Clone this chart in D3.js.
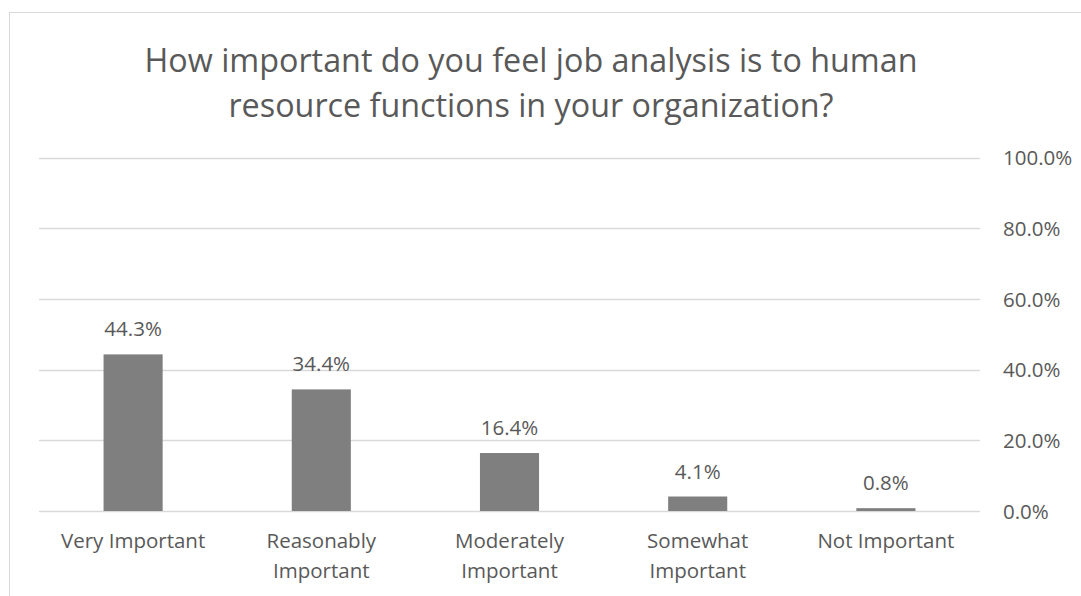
<!DOCTYPE html>
<html>
<head>
<meta charset="utf-8">
<script src="https://cdn.jsdelivr.net/npm/d3@7"></script>
<style>
  html, body { margin: 0; padding: 0; background: #fff; }
  svg { display: block; }
  text { font-family: "Open Sans", "Noto Sans", sans-serif; fill: #595959; }
</style>
</head>
<body>
<svg id="chart" width="1081" height="596"></svg>
<script>
// Survey responses: share of respondents per importance level
const categories = [
  ["Very Important"],
  ["Reasonably", "Important"],
  ["Moderately", "Important"],
  ["Somewhat", "Important"],
  ["Not Important"]
];
const values = [44.3, 34.4, 16.4, 4.1, 0.8];
const tickValues = [0, 20, 40, 60, 80, 100];
const titleLines = [
  "How important do you feel job analysis is to human",
  "resource functions in your organization?"
];

const svg = d3.select("#chart");
const W = 1081, H = 596;
const labelSize = 20.5;

// Chart frame
svg.append("rect")
  .attr("x", 9.5).attr("y", 12.5)
  .attr("width", W + 20).attr("height", H + 20)
  .attr("fill", "none").attr("stroke", "#d9d9d9").attr("stroke-width", 1);

const plot = { left: 39, right: 980, top: 157.5, bottom: 511 };

const x = d3.scaleBand()
  .domain(d3.range(categories.length))
  .range([plot.left, plot.right])
  .padding(0);

const y = d3.scaleLinear()
  .domain([0, 100])
  .range([plot.bottom, plot.top]);

// Gridlines
svg.append("g").selectAll("line")
  .data(tickValues)
  .join("line")
  .attr("x1", plot.left).attr("x2", plot.right)
  .attr("y1", d => Math.round(y(d)) + 0.5)
  .attr("y2", d => Math.round(y(d)) + 0.5)
  .attr("stroke", "#d9d9d9")
  .attr("stroke-width", 1.3);

// Right-hand value axis
const yAxis = d3.axisRight(y)
  .tickValues(tickValues)
  .tickSize(0)
  .tickPadding(0)
  .tickFormat(d => d3.format(".1f")(d) + "%");

const axisG = svg.append("g")
  .attr("transform", `translate(${plot.right + 23},0)`)
  .call(yAxis);
axisG.select(".domain").remove();
axisG.selectAll("text")
  .attr("font-size", labelSize)
  .attr("fill", "#595959")
  .attr("font-family", "Open Sans, Noto Sans, sans-serif")
  .attr("dy", "0.35em");

// Bars
const barW = x.bandwidth() * 0.314;
svg.append("g").selectAll("rect")
  .data(values)
  .join("rect")
  .attr("x", (d, i) => x(i) + (x.bandwidth() - barW) / 2)
  .attr("y", d => y(d))
  .attr("width", barW)
  .attr("height", d => plot.bottom - y(d))
  .attr("fill", "#7f7f7f");

// Value labels
svg.append("g").selectAll("text")
  .data(values)
  .join("text")
  .attr("x", (d, i) => x(i) + x.bandwidth() / 2)
  .attr("y", d => y(d) - 18)
  .attr("text-anchor", "middle")
  .attr("font-size", labelSize)
  .text(d => d3.format(".1f")(d) + "%");

// Category labels
const catG = svg.append("g");
categories.forEach((lines, i) => {
  const cx = x(i) + x.bandwidth() / 2;
  const t = catG.append("text")
    .attr("x", cx)
    .attr("y", 548)
    .attr("text-anchor", "middle")
    .attr("font-size", labelSize);
  lines.forEach((ln, j) => {
    t.append("tspan")
      .attr("x", cx)
      .attr("y", 548 + j * 30)
      .text(ln);
  });
});

// Title
svg.append("g").selectAll("text")
  .data(titleLines)
  .join("text")
  .attr("x", 531)
  .attr("y", (d, i) => 72 + i * 45)
  .attr("text-anchor", "middle")
  .attr("font-size", 32.3)
  .text(d => d);
</script>
</body>
</html>
